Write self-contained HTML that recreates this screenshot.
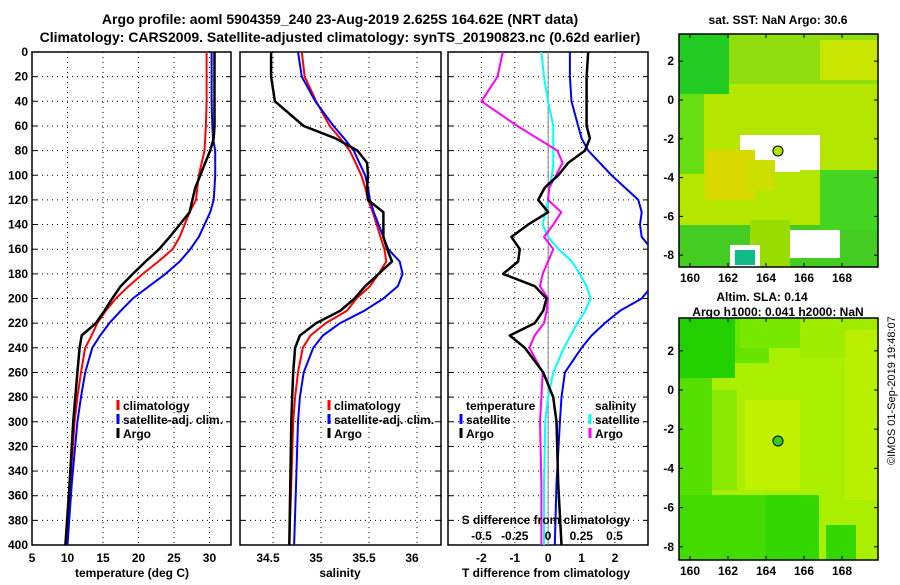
<!DOCTYPE html>
<html><head><meta charset="utf-8"><style>
body{margin:0;background:#fff;}
svg{font-family:"Liberation Sans",Arial,sans-serif;font-weight:bold;}
</style></head><body>
<svg id="c" width="900" height="580" xmlns="http://www.w3.org/2000/svg">
<text x="340" y="24" font-size="14" text-anchor="middle">Argo profile: aoml 5904359_240 23-Aug-2019 2.625S 164.62E (NRT data)</text>
<text x="340" y="42" font-size="14" text-anchor="middle">Climatology: CARS2009. Satellite-adjusted climatology: synTS_20190823.nc (0.62d earlier)</text>
<g id="plots"></g>
<text transform="translate(895,465) rotate(-90)" font-size="11" font-weight="normal">©IMOS 01-Sep-2019 19:48:07</text>
</svg>
<script>
const depthTicks=[0,20,40,60,80,100,120,140,160,180,200,220,240,260,280,300,320,340,360,380,400];
const tempTicks=[5,10,15,20,25,30];
const salTicks=[34.5,35,35.5,36];
const tdTicks=[-2,-1,0,1,2];
const sdTicks=[-0.5,-0.25,0,0.25,0.5];
const sdLabels=['-0.5','-0.25','0','0.25','0.5'];
const depths=[0,20,40,60,70,80,90,100,110,120,130,140,150,160,170,180,190,200,210,220,230,240,260,280,300,350,400];
const tArgo=[30.7,30.7,30.7,30.7,30.6,30.1,29.4,28.7,28.0,27.6,27.2,25.8,24.4,22.9,21,19.2,17.5,16.3,15.2,14,12,11.7,11.4,11.1,10.8,10.3,9.7];
const tClim=[29.6,29.6,29.6,29.5,29.4,29.3,28.9,28.5,28.3,28.1,27.2,26.5,25.8,24.8,22.8,20.6,18.6,16.8,15.4,14.2,13.4,12.5,11.9,11.4,11.0,10.4,9.8];
const tSat=[30.3,30.3,30.3,30.4,30.5,30.8,30.8,30.8,30.7,30.6,30.1,29.3,28.5,27.3,25.8,23.8,21.5,19.2,17.5,15.9,14.6,13.5,12.5,11.9,11.4,10.6,10.0];
const sArgo=[34.48,34.48,34.52,34.82,35.15,35.38,35.48,35.49,35.48,35.49,35.65,35.65,35.65,35.69,35.74,35.6,35.46,35.35,35.2,34.95,34.78,34.73,34.71,34.7,34.69,34.68,34.67];
const sClim=[34.8,34.83,34.95,35.09,35.2,35.3,35.36,35.42,35.46,35.49,35.54,35.58,35.62,35.66,35.68,35.6,35.51,35.37,35.27,35.05,34.89,34.81,34.76,34.73,34.71,34.69,34.67];
const sSat=[34.76,34.8,34.94,35.13,35.24,35.34,35.4,35.46,35.49,35.51,35.55,35.6,35.65,35.7,35.82,35.85,35.8,35.65,35.45,35.2,35.02,34.92,34.82,34.78,34.76,34.74,34.72];
const tdArgo=[1.2,1.15,1.15,1.15,1.25,1.1,0.6,0.3,-0.1,-0.3,0,-0.6,-1.1,-0.85,-0.9,-1.35,-0.4,-0.05,-0.15,-0.4,-1.15,-0.7,-0.15,0.15,0.25,0.3,0.4];
const tdSat=[0.65,0.65,0.7,0.9,1.0,1.2,1.55,1.9,2.3,2.7,2.8,2.75,2.8,3.1,3.2,3.2,3.1,2.8,2.15,1.7,1.3,1.0,0.5,0.4,0.35,0.25,0.2];
const sdSat=[-0.05,-0.03,0.0,0.04,0.04,0.04,0.04,0.03,0.01,0.0,-0.02,-0.04,0.0,0.08,0.18,0.24,0.29,0.32,0.28,0.22,0.17,0.12,0.04,0.0,-0.02,-0.03,-0.03];
const sdArgo=[-0.34,-0.38,-0.5,-0.23,-0.08,0.07,0.11,0.06,0.01,0.0,0.1,0.04,-0.03,0.04,0.0,-0.04,-0.06,0.0,-0.01,-0.03,-0.1,-0.14,-0.04,-0.05,-0.06,-0.05,-0.05];
const NS='http://www.w3.org/2000/svg';
const root=document.getElementById('plots');
function el(tag,attrs,parent,txt){const e=document.createElementNS(NS,tag);for(const k in attrs)e.setAttribute(k,attrs[k]);if(txt!==undefined)e.textContent=txt;(parent||root).appendChild(e);return e;}
const Y0=52,Y1=545;
const yD=d=>Y0+d*(Y1-Y0)/400;
function panel(x0,x1,name,xmin,xmax,ticks,labels,loff){
  const g=el('g',{});
  
  
  const sx=v=>x0+(v-xmin)*(x1-x0)/(xmax-xmin);
  depthTicks.forEach(d=>{
    if(d>0&&d<400){const l=el('line',{x1:x0,x2:x1,y1:yD(d),y2:yD(d),stroke:'#000','stroke-dasharray':'1,4','stroke-width':1},g);
    }
    el('line',{x1:x0,x2:x0+5,y1:yD(d),y2:yD(d),stroke:'#000'},g);
    el('line',{x1:x1-5,x2:x1,y1:yD(d),y2:yD(d),stroke:'#000'},g);
  });
  ticks.forEach((t,i)=>{
    const x=sx(t);
    if(x>x0+2&&x<x1-2){const l=el('line',{x1:x,x2:x,y1:Y0,y2:Y1,stroke:'#000','stroke-dasharray':'1,4'},g);
    }
    const tl=el('text',{x:x+(loff||0),y:562,'font-size':12,'text-anchor':'middle'},g,labels?labels[i]:String(t));
    
  });
  const r=el('rect',{x:x0,y:Y0,width:x1-x0,height:Y1-Y0,fill:'none',stroke:'#000','stroke-width':1.5},g);
  
  return {g,sx};
}
function line(p,vals,color,name,sw){
  const pts=vals.map((v,i)=>p.sx(v).toFixed(1)+','+yD(depths[i]).toFixed(1)).join(' ');
  const cp=el('clipPath',{id:'cp'+name});el('rect',{x:p.clip[0],y:Y0,width:p.clip[1]-p.clip[0],height:Y1-Y0},cp);
  const pl=el('polyline',{points:pts,fill:'none',stroke:color,'stroke-width':sw||2,'stroke-linejoin':'round','clip-path':'url(#cp'+name+')'},p.g);
  
}
function legend(g,x,y,items){
  items.forEach((it,i)=>{
    if(it[0])el('line',{x1:x,x2:x,y1:y+i*14-10,y2:y+i*14,stroke:it[0],'stroke-width':3},g);
    const t=el('text',{x:x+5,y:y+i*14,'font-size':12},g,it[1]);
    
  });
}
depthTicks.forEach(d=>{const t=el('text',{x:28,y:yD(d)+4,'font-size':12,'text-anchor':'end'},root,String(d));
});
// panel 1
const p1=panel(32,231,'temperature-panel',5,33.03,tempTicks);p1.clip=[32,231];
line(p1,tClim,'#f00','climatology-temp-line');line(p1,tSat,'#00f','satellite-temp-line');line(p1,tArgo,'#000','argo-temp-line',2.5);
legend(p1.g,118,410,[['#f00','climatology'],['#00f','satellite-adj. clim.'],['#000','Argo']]);
el('text',{x:132,y:577,'font-size':12,'text-anchor':'middle'},p1.g,'temperature (deg C)');
// panel 2
const p2=panel(240,441,'salinity-panel',34.156,36.25,salTicks,null,-5);p2.clip=[240,441];
line(p2,sClim,'#f00','climatology-sal-line');line(p2,sSat,'#00f','satellite-sal-line');line(p2,sArgo,'#000','argo-sal-line',2.5);
legend(p2.g,329,410,[['#f00','climatology'],['#00f','satellite-adj. clim.'],['#000','Argo']]);
el('text',{x:340,y:577,'font-size':12,'text-anchor':'middle'},p2.g,'salinity');
// panel 3
const p3=panel(448,648,'difference-panel',-3,2.99,tdTicks);p3.clip=[448,648];
el('line',{x1:p3.sx(0),x2:p3.sx(0),y1:Y0,y2:Y1,stroke:'#888'},p3.g);
const p3s={g:p3.g,sx:v=>548+v*133,clip:[448,648]};
line(p3s,sdSat,'#0ff','sal-diff-satellite-line');line(p3s,sdArgo,'#f0f','sal-diff-argo-line');
line(p3,tdSat,'#00f','temp-diff-satellite-line');line(p3,tdArgo,'#000','temp-diff-argo-line',2.5);
legend(p3.g,461,410,[[null,'temperature'],['#00f','satellite'],['#000','Argo']]);
legend(p3.g,590,410,[[null,'salinity'],['#0ff','satellite'],['#f0f','Argo']]);
el('text',{x:546,y:524,'font-size':12,'text-anchor':'middle'},p3.g,'S difference from climatology');
sdTicks.forEach((s,i)=>el('text',{x:548+s*133,y:540,'font-size':12,'text-anchor':'middle'},p3.g,sdLabels[i]));
el('text',{x:546,y:577,'font-size':12,'text-anchor':'middle'},p3.g,'T difference from climatology');
// maps
const lonTicks=[160,162,164,166,168];const latTicks=[2,0,-2,-4,-6,-8];
function map(y0,y1,name,base,blobs,circ,lat2y){
  const g=el('g',{});
  const cid='clip-'+name;
  const cp=el('clipPath',{id:cid},g);el('rect',{x:679,y:y0,width:199,height:y1-y0},cp);
  const inner=el('g',{'clip-path':'url(#'+cid+')'},g);
  el('rect',{x:679,y:y0,width:199,height:y1-y0,fill:base},inner);
  blobs.forEach(b=>el('rect',{x:b[0],y:b[1],width:b[2],height:b[3],fill:b[4]},inner));
  el('rect',{x:679,y:y0,width:199,height:y1-y0,fill:'none',stroke:'#000','stroke-width':1.5},g);
  lonTicks.forEach(l=>{const x=690+(l-160)*19.0;el('line',{x1:x,x2:x,y1:y0,y2:y0+4,stroke:'#000'},g);el('line',{x1:x,x2:x,y1:y1-4,y2:y1,stroke:'#000'},g);
    el('text',{x:x,y:y1+15,'font-size':12,'text-anchor':'middle'},g,String(l));});
  latTicks.forEach(l=>{const y=lat2y(l);el('line',{x1:679,x2:683,y1:y,y2:y,stroke:'#000'},g);el('line',{x1:874,x2:878,y1:y,y2:y,stroke:'#000'},g);
    el('text',{x:674,y:y+4,'font-size':12,'text-anchor':'end'},g,String(l));});
  const c=el('circle',{cx:circ[0],cy:circ[1],r:5,fill:circ[2],stroke:'#000'},g);
  
}
map(34,267,'sst-map','#b4e600',[[679,34,199,50,'#90dd10'],[679,34,50,60,'#22cc22'],[679,94,25,80,'#66dd11'],[679,225,199,42,'#44cc22'],[820,170,58,60,'#44d422'],[750,220,40,47,'#99dd00'],[740,135,80,35,'#fff'],[770,160,30,12,'#fff'],[790,230,50,28,'#fff'],[730,245,30,22,'#fff'],[735,250,20,15,'#11bb88'],[705,150,50,50,'#d8d800'],[745,160,30,30,'#ccdd00'],[820,40,58,40,'#c8e600']],[778,151,'#b4e600'],l=>100-l*19.4);
map(318,560,'sla-map','#aaee00',[[679,318,90,45,'#66e400'],[679,318,56,60,'#22d000'],[679,378,33,140,'#55e000'],[712,390,25,100,'#88e800'],[740,318,60,30,'#77e800'],[800,318,78,40,'#a0ec00'],[845,330,33,170,'#b8f000'],[745,400,55,90,'#c0f200'],[679,495,87,65,'#44dc00'],[766,495,53,65,'#33d800'],[826,525,30,35,'#33d800']],[778,441,'#33cc22'],l=>390-l*19.6);
el('text',{x:778,y:24,'font-size':12,'text-anchor':'middle'},root,'sat. SST: NaN Argo: 30.6');
el('text',{x:762,y:301,'font-size':12,'text-anchor':'middle'},root,'Altim. SLA: 0.14');
el('text',{x:778,y:316,'font-size':12,'text-anchor':'middle'},root,'Argo h1000: 0.041 h2000: NaN');
</script>
</body></html>
